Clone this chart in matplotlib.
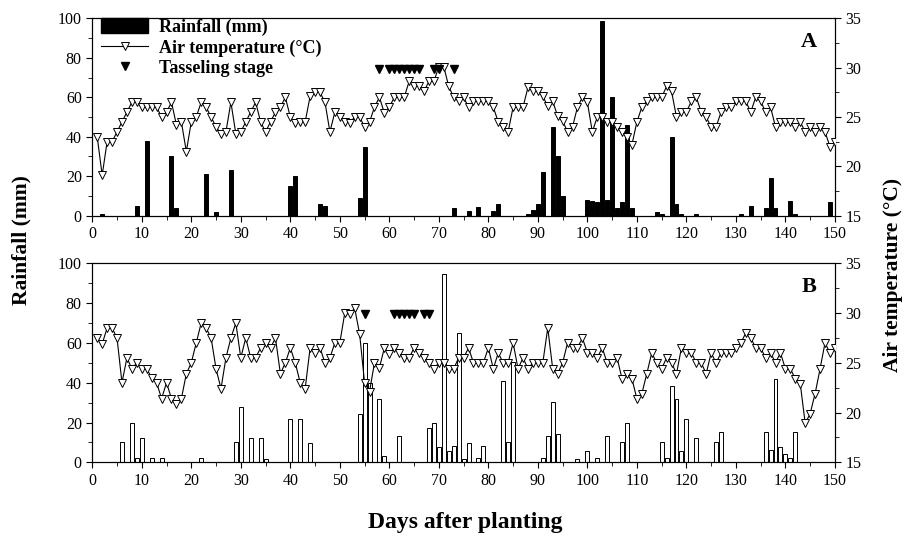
import numpy as np
import matplotlib.pyplot as plt
from matplotlib.lines import Line2D
from matplotlib.patches import Patch
from matplotlib.ticker import MultipleLocator

plt.rcParams['font.family'] = ['Liberation Serif', 'DejaVu Serif']

# ---------------------------------------------------------
# Data
# ---------------------------------------------------------

days = list(range(1, 151))

# Panel A: daily air temperature (degC), days 1..150
temp_a = [
    23.0, 19.1, 22.5, 22.5, 23.5, 24.5, 25.5, 26.5, 26.5, 26.0,
    26.0, 26.0, 26.0, 25.0, 25.5, 26.5, 24.2, 24.5, 21.5, 24.5,
    25.0, 26.5, 26.0, 25.0, 24.0, 23.3, 23.5, 26.5, 23.3, 23.5,
    24.5, 25.5, 26.5, 24.5, 23.5, 24.5, 25.5, 26.0, 27.0, 25.0,
    24.4, 24.5, 24.5, 27.1, 27.5, 27.5, 26.5, 23.5, 25.5, 25.0,
    24.5, 24.4, 25.0, 25.0, 24.0, 24.5, 26.0, 27.0, 25.4, 26.0,
    27.0, 27.0, 27.0, 28.6, 28.1, 28.1, 27.6, 28.6, 28.6, 30.1,
    30.1, 28.1, 27.0, 26.6, 27.0, 26.0, 26.6, 26.6, 26.6, 26.6,
    26.0, 24.5, 24.0, 23.5, 26.0, 26.0, 26.0, 28.0, 27.6, 27.6,
    27.1, 26.1, 26.6, 25.1, 24.6, 23.5, 24.0, 26.0, 27.0, 26.5,
    23.5, 25.0, 25.0, 24.5, 24.5, 24.0, 23.5, 23.0, 22.2, 24.5,
    26.0, 26.6, 27.0, 27.0, 27.0, 28.1, 27.6, 25.0, 25.5, 25.5,
    26.6, 27.0, 25.5, 25.0, 24.0, 24.0, 25.5, 26.0, 26.0, 26.6,
    26.6, 26.6, 25.5, 27.0, 26.6, 25.5, 26.0, 24.0, 24.5, 24.5,
    24.5, 24.0, 24.5, 23.5, 24.0, 23.5, 24.0, 23.5, 22.0, 22.5,
]

# Panel B: daily air temperature (degC), days 1..150
temp_b = [
    27.5, 26.9, 28.5, 28.5, 27.5, 23.0, 25.5, 24.4, 25.0, 24.4,
    24.4, 23.5, 23.0, 21.4, 23.0, 21.4, 20.9, 21.4, 23.9, 25.0,
    27.0, 29.0, 28.5, 27.5, 24.4, 22.4, 25.5, 27.5, 29.0, 25.5,
    27.5, 25.5, 25.5, 26.5, 27.0, 26.5, 27.5, 23.9, 25.0, 26.5,
    25.0, 23.0, 22.4, 26.5, 26.0, 26.5, 25.0, 25.5, 27.0, 27.0,
    30.0, 29.9, 30.5, 27.9, 23.0, 22.1, 25.0, 24.5, 26.5, 25.9,
    26.5, 26.0, 25.5, 25.5, 26.5, 26.0, 25.5, 25.0, 24.4, 25.0,
    25.0, 24.4, 24.4, 25.5, 25.5, 26.5, 25.0, 25.0, 25.0, 26.5,
    24.4, 26.0, 25.0, 25.0, 27.0, 24.4, 25.5, 24.4, 25.0, 25.0,
    25.0, 28.5, 24.4, 23.9, 25.0, 27.0, 26.5, 26.5, 27.5, 26.0,
    26.0, 25.5, 26.5, 25.0, 25.0, 25.5, 23.4, 23.9, 23.4, 21.4,
    21.9, 23.9, 26.0, 25.0, 24.4, 25.5, 25.0, 23.9, 26.5, 26.0,
    26.0, 25.0, 25.0, 23.9, 26.0, 25.0, 26.0, 26.0, 26.0, 26.5,
    27.0, 28.0, 27.5, 26.5, 26.5, 25.5, 26.0, 25.0, 26.0, 24.4,
    24.4, 23.4, 22.9, 18.9, 19.9, 21.9, 24.4, 27.0, 26.0, 26.5,
]

# Rainfall (mm)
rain_a_days = [2, 9, 11, 16, 17, 23, 25, 28, 40, 41,
               46, 47, 54, 55, 73, 76, 78, 81, 82, 88,
               89, 90, 91, 93, 94, 95, 100, 101, 102, 103,
               104, 105, 106, 107, 108, 109, 114, 115, 117, 118,
               119, 122, 131, 133, 136, 137, 138, 141, 142, 149]
rain_a_mm = [1, 5, 38, 30.5, 4, 21, 2, 23, 15, 20,
             6, 5, 9, 35, 4, 2.5, 4.5, 2.5, 6, 0.7,
             3, 6, 22, 45, 30.5, 10, 8, 7.5, 7, 98.5,
             8, 60, 4, 7, 46, 4, 2, 1, 40, 6,
             0.8, 0.8, 0.8, 5, 4, 19, 4, 7.5, 0.7, 7]

rain_b_days = [6, 8, 9, 10, 12, 14, 22, 29, 30, 32,
               34, 35, 40, 42, 44, 54, 55, 56, 58, 59,
               62, 68, 69, 70, 71, 72, 73, 74, 75, 76,
               78, 79, 83, 84, 85, 91, 92, 93, 94, 98,
               100, 102, 104, 107, 108, 115, 116, 117, 118, 119,
               120, 122, 126, 127, 136, 137, 138, 139, 140, 141,
               142]
rain_b_mm = [10, 20, 2, 12, 2, 2, 2, 10, 28, 12,
             12, 1.5, 22, 22, 9.5, 24.5, 60, 40, 32, 3,
             13, 17, 20, 7.5, 94.5, 5.5, 8, 65, 1.5, 9.5,
             2.3, 8.2, 41, 10, 50.5, 2.3, 13, 30.5, 14, 1.5,
             5.5, 2, 13, 10, 20, 10, 2, 38.5, 32, 5.5,
             22, 12, 10, 15, 15, 6, 42, 7.5, 4, 2,
             15]

# Tasseling stage days
tassel_a = [58, 60, 61, 62, 63, 64, 65, 66, 69, 70, 73]
tassel_b = [55, 61, 62, 63, 64, 65, 67, 68]
tassel_level = 29.9   # plotted height on temperature axis


# ---------------------------------------------------------
# Figure
# ---------------------------------------------------------

fig = plt.figure(figsize=(9.09, 5.39), dpi=100)

left, width = 0.1015, 0.817
ax_a = fig.add_axes([left, 0.5998, width, 0.3662])
ax_b = fig.add_axes([left, 0.1423, width, 0.3692])

panels = [
    (ax_a, temp_a, rain_a_days, rain_a_mm, tassel_a, "A", "black"),
    (ax_b, temp_b, rain_b_days, rain_b_mm, tassel_b, "B", "white"),
]

for ax, temp, rdays, rmm, tassel, letter, barcolor in panels:

    ax.bar(rdays, rmm, width=0.8, color=barcolor,
           edgecolor="black", linewidth=0.7, zorder=2)

    ax.set_xlim(0, 150)
    ax.set_ylim(0, 100)
    ax.xaxis.set_major_locator(MultipleLocator(10))
    ax.xaxis.set_minor_locator(MultipleLocator(5))
    ax.yaxis.set_major_locator(MultipleLocator(20))
    ax.yaxis.set_minor_locator(MultipleLocator(10))
    ax.tick_params(which="both", direction="out", labelsize=11.5)
    ax.tick_params(which="major", length=4)
    ax.tick_params(which="minor", length=3)

    ax2 = ax.twinx()
    ax2.plot(days, temp, "-", color="black", linewidth=0.8,
             marker="v", markersize=5.5, markerfacecolor="white",
             markeredgecolor="black", markeredgewidth=0.7, zorder=3)
    ax2.plot(tassel, [tassel_level] * len(tassel), linestyle="none",
             marker="v", markersize=6, color="black", zorder=4)
    ax2.set_ylim(15, 35)
    ax2.yaxis.set_major_locator(MultipleLocator(5))
    ax2.yaxis.set_minor_locator(MultipleLocator(2.5))
    ax2.tick_params(which="both", direction="out", labelsize=11.5)
    ax2.tick_params(which="major", length=4)
    ax2.tick_params(which="minor", length=3)

    ax2.text(0.965, 0.88, letter, transform=ax2.transAxes,
             ha="center", va="center", fontsize=16, fontweight="bold")

    if letter == "A":
        handles = [
            Patch(facecolor="black", edgecolor="black"),
            Line2D([], [], color="black", linewidth=0.8, marker="v",
                   markersize=5.5, markerfacecolor="white",
                   markeredgecolor="black", markeredgewidth=0.7),
            Line2D([], [], linestyle="none", marker="v", markersize=6,
                   color="black"),
        ]
        labels = ["Rainfall (mm)", "Air temperature (\u00b0C)",
                  "Tasseling stage"]
        ax2.legend(handles, labels, loc="upper left", frameon=False,
                   bbox_to_anchor=(0.0, 1.045),
                   handlelength=2.6, handleheight=0.9, labelspacing=0.15,
                   borderaxespad=0.1, handletextpad=0.6,
                   prop={"weight": "bold", "size": 13})

fig.text(0.024, 0.555, "Rainfall (mm)", rotation=90, ha="center",
         va="center", fontsize=15.5, fontweight="bold")
fig.text(0.982, 0.49, "Air temperature (\u00b0C)", rotation=90,
         ha="center", va="center", fontsize=15.5, fontweight="bold")
fig.text(0.512, 0.03, "Days after planting", ha="center", va="center",
         fontsize=17, fontweight="bold")

fig.savefig("out.png", dpi=100)
